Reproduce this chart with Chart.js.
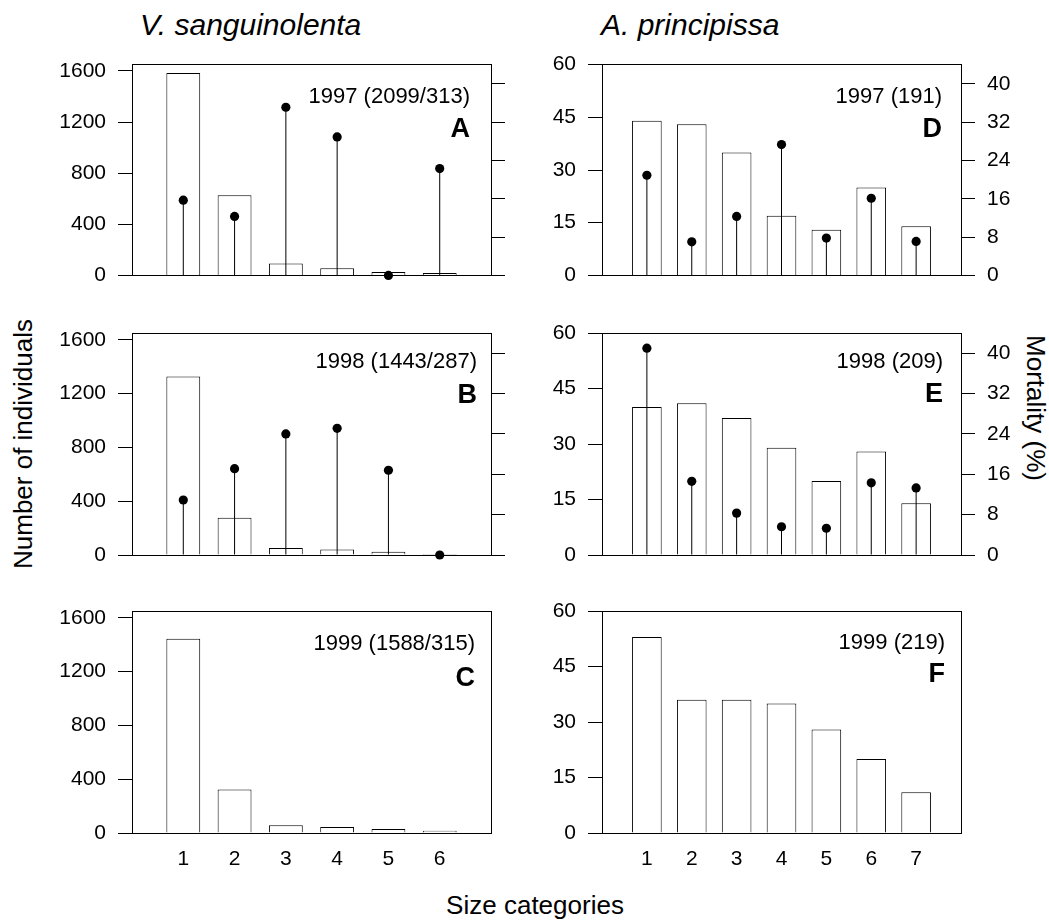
<!DOCTYPE html>
<html>
<head>
<meta charset="utf-8">
<script src="https://cdn.jsdelivr.net/npm/chart.js@4.4.0/dist/chart.umd.min.js"></script>
<style>
  body { margin: 0; background: #fff; }
  #fig { position: relative; width: 1049px; height: 922px; font-family: "Liberation Sans", Arial, sans-serif; color: #000; overflow: hidden; }
  .panel { position: absolute; }
  .lbl { position: absolute; white-space: nowrap; font-size: 26px; line-height: 26px; }
  .rot { transform: translate(-50%, -50%) rotate(-90deg); }
  .rot2 { transform: translate(-50%, -50%) rotate(90deg); }
</style>
</head>
<body>
<div id="fig">
  <div class="lbl" style="left:140px; top:10px; font-size:30px; line-height:30px; font-style:italic">V. sanguinolenta</div>
  <div class="lbl" style="left:601px; top:10px; font-size:30px; line-height:30px; font-style:italic">A. principissa</div>
  <div class="lbl rot" style="left:23px; top:444px">Number of individuals</div>
  <div class="lbl rot2" style="left:1036px; top:408px">Mortality (%)</div>
  <div class="lbl" style="left:535px; top:892px; transform:translateX(-50%)">Size categories</div>

  <div class="panel" style="left:40px; top:40px"><canvas id="cA" width="480" height="260"></canvas></div>
  <div class="panel" style="left:40px; top:300px"><canvas id="cB" width="480" height="280"></canvas></div>
  <div class="panel" style="left:40px; top:580px"><canvas id="cC" width="480" height="300"></canvas></div>
  <div class="panel" style="left:520px; top:40px"><canvas id="cD" width="495" height="260"></canvas></div>
  <div class="panel" style="left:520px; top:300px"><canvas id="cE" width="495" height="280"></canvas></div>
  <div class="panel" style="left:520px; top:580px"><canvas id="cF" width="495" height="300"></canvas></div>
</div>
<script>
// size categories
const sizeClassesV = [1, 2, 3, 4, 5, 6];
const sizeClassesA = [1, 2, 3, 4, 5, 6, 7];

// V. sanguinolenta: number of individuals and mortality (%)
const countsV1997 = [1585, 627, 93, 56, 27, 19];
const mortV1997 = [15.7, 12.3, 35.1, 28.9, 0, 22.3];
const countsV1998 = [1326, 276, 52, 41, 24, 7];
const mortV1998 = [10.9, 17.1, 24.0, 25.1, 16.8, 0];
const countsV1999 = [1444, 324, 57, 45, 30, 17];

// A. principissa
const countsA1997 = [44, 43, 35, 17, 13, 25, 14];
const mortA1997 = [20.9, 7.0, 12.3, 27.3, 7.8, 16.1, 7.1];
const countsA1998 = [40, 41, 37, 29, 20, 28, 14];
const mortA1998 = [41.0, 14.6, 8.3, 5.6, 5.3, 14.3, 13.3];
const countsA1999 = [53, 36, 36, 35, 28, 20, 11];

// axis ticks
const ticksV = [0, 400, 800, 1200, 1600];
const ticksA = [0, 15, 30, 45, 60];
const ticksMort = [0, 8, 16, 24, 32, 40];

const FONT = '"Liberation Sans", Arial, sans-serif';

const align = (p) => Math.round(p - 0.5) + 0.5;

// box around the plot area
const framePlugin = {
  id: 'frame',
  beforeDatasetsDraw(chart) {
    const a = chart.chartArea;
    const ctx = chart.ctx;
    ctx.save();
    ctx.strokeStyle = '#000';
    ctx.lineWidth = 1;
    const l = align(a.left), r = align(a.right), t = align(a.top), b = align(a.bottom);
    ctx.strokeRect(l, t, r - l, b - t);
    ctx.restore();
  }
};

// year / sample size and panel letter
const panelTextPlugin = {
  id: 'panelText',
  afterDraw(chart, args, o) {
    const a = chart.chartArea;
    const ctx = chart.ctx;
    ctx.save();
    ctx.fillStyle = '#000';
    ctx.textAlign = 'right';
    ctx.textBaseline = 'alphabetic';
    ctx.font = '22px ' + FONT;
    ctx.fillText(o.label, a.right - o.inset, a.top + o.textDy);
    ctx.font = 'bold 27px ' + FONT;
    ctx.fillText(o.letter, a.right - o.inset, a.top + o.letterDy);
    ctx.restore();
  }
};

function makePanel(id, p) {
  const datasets = [];
  if (p.mort) {
    datasets.push({
      type: 'line',
      data: p.cats.map((c, i) => ({ x: c, y: p.mort[i] })),
      yAxisID: 'y2',
      showLine: false,
      pointRadius: 4.6,
      pointBackgroundColor: '#000',
      pointBorderWidth: 0,
      clip: false,
      order: 0
    });
    datasets.push({
      type: 'bar',
      data: p.cats.map((c, i) => ({ x: c, y: p.mort[i] })),
      yAxisID: 'y2',
      backgroundColor: '#000',
      borderWidth: 0,
      grouped: false,
      maxBarThickness: 1,
      order: 1
    });
  }
  datasets.push({
    type: 'bar',
    data: p.cats.map((c, i) => ({ x: c, y: p.counts[i] })),
    yAxisID: 'y',
    backgroundColor: '#fff',
    borderColor: '#000',
    borderWidth: 1,
    grouped: false,
    categoryPercentage: 1,
    barPercentage: 0.66,
    order: 2
  });

  const plain = (v) => String(v);

  const scales = {
    x: {
      type: 'linear',
      min: 0,
      max: p.cats.length + 1,
      offset: false,
      grid: { display: false, drawTicks: false },
      border: { display: false },
      afterBuildTicks: (s) => { s.ticks = p.cats.map(v => ({ value: v })); },
      ticks: {
        display: !!p.showX,
        autoSkip: false,
        maxRotation: 0,
        padding: 14,
        color: '#000',
        font: { family: FONT, size: 21 },
        callback: plain
      },
      afterFit: (s) => { s.height = p.xH; }
    },
    y: {
      type: 'linear',
      position: 'left',
      min: 0,
      max: p.yMax,
      afterBuildTicks: (s) => { s.ticks = p.yTicks.map(v => ({ value: v })); },
      grid: { drawOnChartArea: false, drawTicks: true, tickLength: 14, color: '#000', lineWidth: 1 },
      border: { display: true, color: '#000', width: 1 },
      ticks: { color: '#000', padding: 12, font: { family: FONT, size: 21 }, callback: plain },
      afterFit: (s) => { s.width = p.leftW; }
    }
  };
  if (p.mort) {
    scales.y2 = {
      type: 'linear',
      position: 'right',
      min: 0,
      max: 44,
      afterBuildTicks: (s) => { s.ticks = ticksMort.map(v => ({ value: v })); },
      grid: { drawOnChartArea: false, drawTicks: true, tickLength: 14, color: '#000', lineWidth: 1 },
      border: { display: true, color: '#000', width: 1 },
      ticks: { display: !!p.showRight, color: '#000', padding: 12, font: { family: FONT, size: 21 }, callback: plain },
      afterFit: (s) => { s.width = p.rightW; }
    };
  }

  return new Chart(document.getElementById(id), {
    type: 'bar',
    data: { datasets: datasets },
    options: {
      responsive: false,
      animation: false,
      devicePixelRatio: 1,
      layout: { padding: { top: p.padTop, right: p.mort ? 0 : p.rightW, left: 0, bottom: 0 } },
      scales: scales,
      plugins: {
        legend: { display: false },
        tooltip: { enabled: false },
        panelText: { label: p.label, letter: p.letter, inset: p.inset, textDy: p.textDy, letterDy: p.letterDy }
      }
    },
    plugins: [framePlugin, panelTextPlugin]
  });
}

makePanel('cA', { cats: sizeClassesV, counts: countsV1997, mort: mortV1997, yMax: 1650, yTicks: ticksV,
  leftW: 92, rightW: 29, padTop: 15, xH: 23, label: '1997 (2099/313)', letter: 'A', inset: 21, textDy: 38, letterDy: 72 });
makePanel('cB', { cats: sizeClassesV, counts: countsV1998, mort: mortV1998, yMax: 1650, yTicks: ticksV,
  leftW: 92, rightW: 29, padTop: 33, xH: 25, label: '1998 (1443/287)', letter: 'B', inset: 14, textDy: 35, letterDy: 70 });
makePanel('cC', { cats: sizeClassesV, counts: countsV1999, yMax: 1650, yTicks: ticksV, showX: true,
  leftW: 92, rightW: 29, padTop: 31, xH: 47, label: '1999 (1588/315)', letter: 'C', inset: 16, textDy: 39, letterDy: 75 });
makePanel('cD', { cats: sizeClassesA, counts: countsA1997, mort: mortA1997, yMax: 60, yTicks: ticksA, showRight: true,
  leftW: 82, rightW: 54, padTop: 15, xH: 23, label: '1997 (191)', letter: 'D', inset: 19, textDy: 38, letterDy: 72 });
makePanel('cE', { cats: sizeClassesA, counts: countsA1998, mort: mortA1998, yMax: 60, yTicks: ticksA, showRight: true,
  leftW: 82, rightW: 54, padTop: 33, xH: 25, label: '1998 (209)', letter: 'E', inset: 18, textDy: 35, letterDy: 69 });
makePanel('cF', { cats: sizeClassesA, counts: countsA1999, yMax: 60, yTicks: ticksA, showX: true,
  leftW: 82, rightW: 54, padTop: 31, xH: 47, label: '1999 (219)', letter: 'F', inset: 16, textDy: 38, letterDy: 71 });
</script>
</body>
</html>
